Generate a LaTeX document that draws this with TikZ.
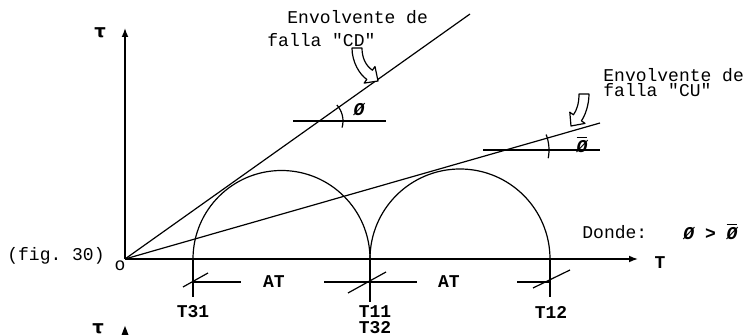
\documentclass[tikz,border=0pt]{standalone}
\usepackage{fontspec}
\setmonofont{Liberation Mono}
\newfontfamily\grfont{DejaVu Sans}
\usetikzlibrary{arrows.meta}
\tikzset{
  txt/.style={font=\ttfamily\fontsize{9}{10}\selectfont, inner sep=0pt},
  btxt/.style={font=\ttfamily\bfseries\fontsize{9}{10}\selectfont, inner sep=0pt},
  phitxt/.style={font=\ttfamily\bfseries\itshape\fontsize{9}{10}\selectfont, inner sep=0pt},
  tautxt/.style={font=\grfont\bfseries\fontsize{9}{10}\selectfont, inner sep=0pt},
  eje/.style={line width=0.65pt, -{Latex[length=4.5pt,width=3.4pt]}},
  linea/.style={line width=0.6pt},
  hueca/.style={line width=0.6pt, fill=white, line join=round},
}
\begin{document}
\begin{tikzpicture}[x=0.5pt, y=-0.5pt]
\useasboundingbox (0,0) rectangle (746,336);
\clip (0,0) rectangle (746,336);

% Ejes
\coordinate (O) at (125,259);
\coordinate (tauTop) at (125,28);
\coordinate (Tend) at (638,259);
\draw[eje] (O) -- (tauTop);
\draw[eje] (O) -- (Tend);
\node[tautxt] (tau) at (100,33) {τ};
\node[btxt] (T) at (660,263) {T};
\node[txt] (o) at (120,266) {o};
\node[txt, anchor=west] (fig) at (7,256) {(fig. 30)};

% Envolventes de falla
\coordinate (cdEnd) at (470,14);
\coordinate (cuEnd) at (600,123);
\draw[linea] (O) -- (cdEnd);
\draw[linea] (O) -- (cuEnd);
\node[txt, anchor=west] (envCD1) at (287,17) {Envolvente de};
\node[txt, anchor=west] (envCD2) at (267,40) {falla "CD"};
\node[txt, anchor=west] (envCU1) at (603,75) {Envolvente de};
\node[txt, anchor=west] (envCU2) at (603,90) {falla "CU"};

% Flechas huecas
\draw[hueca] (378,81) -- (375,66.5) -- (372.4,70.2)
  .. controls (365.8,65.6) and (362,58) .. (362,48) -- (352,48)
  .. controls (352,62) and (359.5,74.4) .. (366.8,79.4) -- (364.2,83.1) -- cycle;
\draw[hueca] (571,126) -- (585,123.4) -- (581.4,120.8)
  .. controls (585,116) and (589,105) .. (589,94) -- (579,94)
  .. controls (579,103) and (577,110) .. (573.4,114.8) -- (569.8,112.2) -- cycle;

% Circulos de Mohr
\coordinate (t31) at (193,259);
\coordinate (t11) at (370,259);
\coordinate (t12) at (550,259);
\draw[linea] (t31) arc[start angle=180, end angle=360, radius=88.5];
\draw[linea] (t11) arc[start angle=180, end angle=360, radius=90];

% Angulos
\coordinate (angCD) at (319,121);
\coordinate (hCDa) at (293,121);
\coordinate (hCDb) at (386,121);
\draw[linea] (hCDa) -- (hCDb);
\draw[linea] (angCD) ++(-42:24) arc[start angle=-42, end angle=16, radius=24];
\node[phitxt] (phi) at (359,110) {Ø};
\coordinate (angCU) at (506,150);
\coordinate (hCUa) at (483,150);
\coordinate (hCUb) at (600,150);
\draw[linea] (hCUa) -- (hCUb);
\draw[linea] (angCU) ++(-21:43) arc[start angle=-21, end angle=11, radius=43];
\node[phitxt] (phib) at (582,145) {$\overline{\mbox{\bfseries\itshape Ø}}$};
\node[txt, anchor=west] (donde) at (582,232) {Donde:};
\node[phitxt, anchor=west] (rel) at (683,232) {Ø > $\overline{\mbox{\bfseries\itshape Ø}}$};

% Cotas
\coordinate (t31b) at (193,297);
\coordinate (t11b) at (370,302);
\coordinate (t12b) at (550,297);
\draw[linea] (t31) -- (t31b);
\draw[linea] (t11) -- (t11b);
\draw[linea] (t12) -- (t12b);
\coordinate (c31) at (193,282);
\coordinate (c11) at (370,282);
\coordinate (c12) at (550,282);
\draw[linea] (c31) +(-10,5) -- +(15,-9);
\draw[linea] (c11) +(-22,11) -- +(16,-10);
\draw[linea] (c12) +(-17,6) -- +(20,-12);
\node[btxt] (at1) at (274,282) {AT};
\node[btxt] (at2) at (449,282) {AT};
\coordinate (at1l) at (241,282);
\coordinate (at1r) at (324,282);
\coordinate (at2l) at (417,282);
\coordinate (at2r) at (517,282);
\draw[linea] (c31) -- (at1l);
\draw[linea] (at1r) -- (c11);
\draw[linea] (c11) -- (at2l);
\draw[linea] (at2r) -- (c12);
\node[btxt] (lt31) at (193,312) {T31};
\node[btxt] (lt11) at (375,312) {T11};
\node[btxt] (lt32) at (375,328) {T32};
\node[btxt] (lt12) at (551,312) {T12};

% Figura siguiente
\node[tautxt] (tau2) at (98,329) {τ};
\fill (125,326) -- (121.5,335) -- (128.5,335) -- cycle;
\end{tikzpicture}
\end{document}
